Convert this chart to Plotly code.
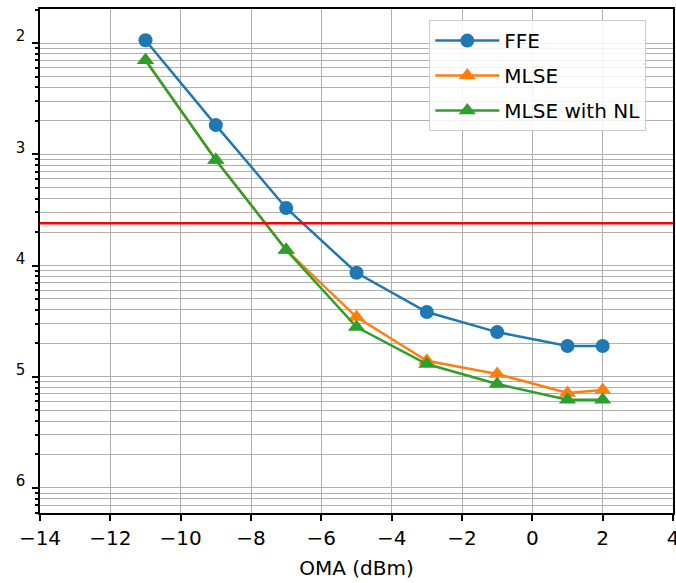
import plotly.graph_objects as go

# Optical modulation amplitude sweep (dBm)
oma = [-11, -9, -7, -5, -3, -1, 1, 2]

# Bit error ratio per equaliser
ber_ffe = [1.06e-2, 1.83e-3, 3.29e-4, 8.6e-5, 3.82e-5, 2.52e-5, 1.89e-5, 1.89e-5]
ber_mlse = [7.0e-3, 8.9e-4, 1.38e-4, 3.44e-5, 1.39e-5, 1.06e-5, 7.15e-6, 7.6e-6]
ber_mlse_nl = [7.0e-3, 8.9e-4, 1.38e-4, 2.8e-5, 1.30e-5, 8.6e-6, 6.2e-6, 6.2e-6]

# FEC threshold
ber_threshold = 2.4e-4

# Decade ticks and their (partly visible) exponent digits
y_tick_vals = [1e-2, 1e-3, 1e-4, 1e-5, 1e-6]
y_tick_text = ["2", "3", "4", "5", "6"]
x_tick_vals = [-14, -12, -10, -8, -6, -4, -2, 0, 2, 4]

BLUE = "#1f77b4"
ORANGE = "#ff7f0e"
GREEN = "#2ca02c"
GRID = "#b0b0b0"
FONT = "DejaVu Sans"

minor_vals = [m * 10.0 ** e for e in range(-7, -1) for m in range(2, 10)]

fig = go.Figure()

fig.add_trace(go.Scatter(
    x=oma, y=ber_ffe, name="FFE", mode="lines+markers",
    line=dict(color=BLUE, width=2.5),
    marker=dict(symbol="circle", size=14, color=BLUE),
    legendgroup="a",
))
fig.add_trace(go.Scatter(
    x=oma, y=ber_mlse, name="MLSE", mode="lines+markers",
    line=dict(color=ORANGE, width=2.5),
    marker=dict(symbol="triangle-up", size=15, color=ORANGE),
    legendgroup="b",
))
fig.add_trace(go.Scatter(
    x=oma, y=ber_mlse_nl, name="MLSE with NL", mode="lines+markers",
    line=dict(color=GREEN, width=2.5),
    marker=dict(symbol="triangle-up", size=15, color=GREEN),
    legendgroup="c",
))

fig.add_hline(y=ber_threshold, line=dict(color="#ff0000", width=2.5), layer="above")

fig.update_layout(
    width=676, height=583,
    margin=dict(l=40, r=3, t=9, b=70, autoexpand=False),
    paper_bgcolor="white",
    plot_bgcolor="white",
    font=dict(family=FONT, size=20, color="black"),
    showlegend=True,
    legend=dict(
        x=0.615, y=0.978, xanchor="left", yanchor="top",
        bgcolor="rgba(255,255,255,0.85)",
        bordercolor="#cccccc", borderwidth=1,
        font=dict(family=FONT, size=20, color="black"),
        tracegroupgap=6,
        traceorder="grouped",
        itemwidth=64,
    ),
    xaxis=dict(
        range=[-14, 4],
        tickmode="array", tickvals=x_tick_vals,
        ticktext=[("−" + str(abs(v))) if v < 0 else str(v) for v in x_tick_vals],
        ticks="outside", ticklen=6, tickwidth=1.5, tickcolor="black",
        showgrid=True, gridcolor=GRID, gridwidth=1,
        showline=True, linecolor="black", linewidth=1.5, mirror=True,
        zeroline=False,
        automargin=False,
        title=dict(text="OMA (dBm)", standoff=12, font=dict(size=20)),
        tickfont=dict(size=20),
        ticklabeloverflow="allow",
    ),
    yaxis=dict(
        type="log",
        range=[-6.225, -1.694],
        tickmode="array", tickvals=y_tick_vals, ticktext=y_tick_text,
        ticks="outside", ticklen=6, tickwidth=1.5, tickcolor="black",
        showgrid=True, gridcolor=GRID, gridwidth=1,
        showline=True, linecolor="black", linewidth=1.5, mirror=True,
        zeroline=False,
        automargin=False,
        tickfont=dict(size=15),
        ticklabelstandoff=4,
        ticklabelshift=-7,
        minor=dict(
            tickmode="array", tickvals=minor_vals,
            ticks="outside", ticklen=3, tickcolor="black",
            showgrid=True, gridcolor=GRID, gridwidth=1,
        ),
    ),
)

fig.write_html("out.html")
